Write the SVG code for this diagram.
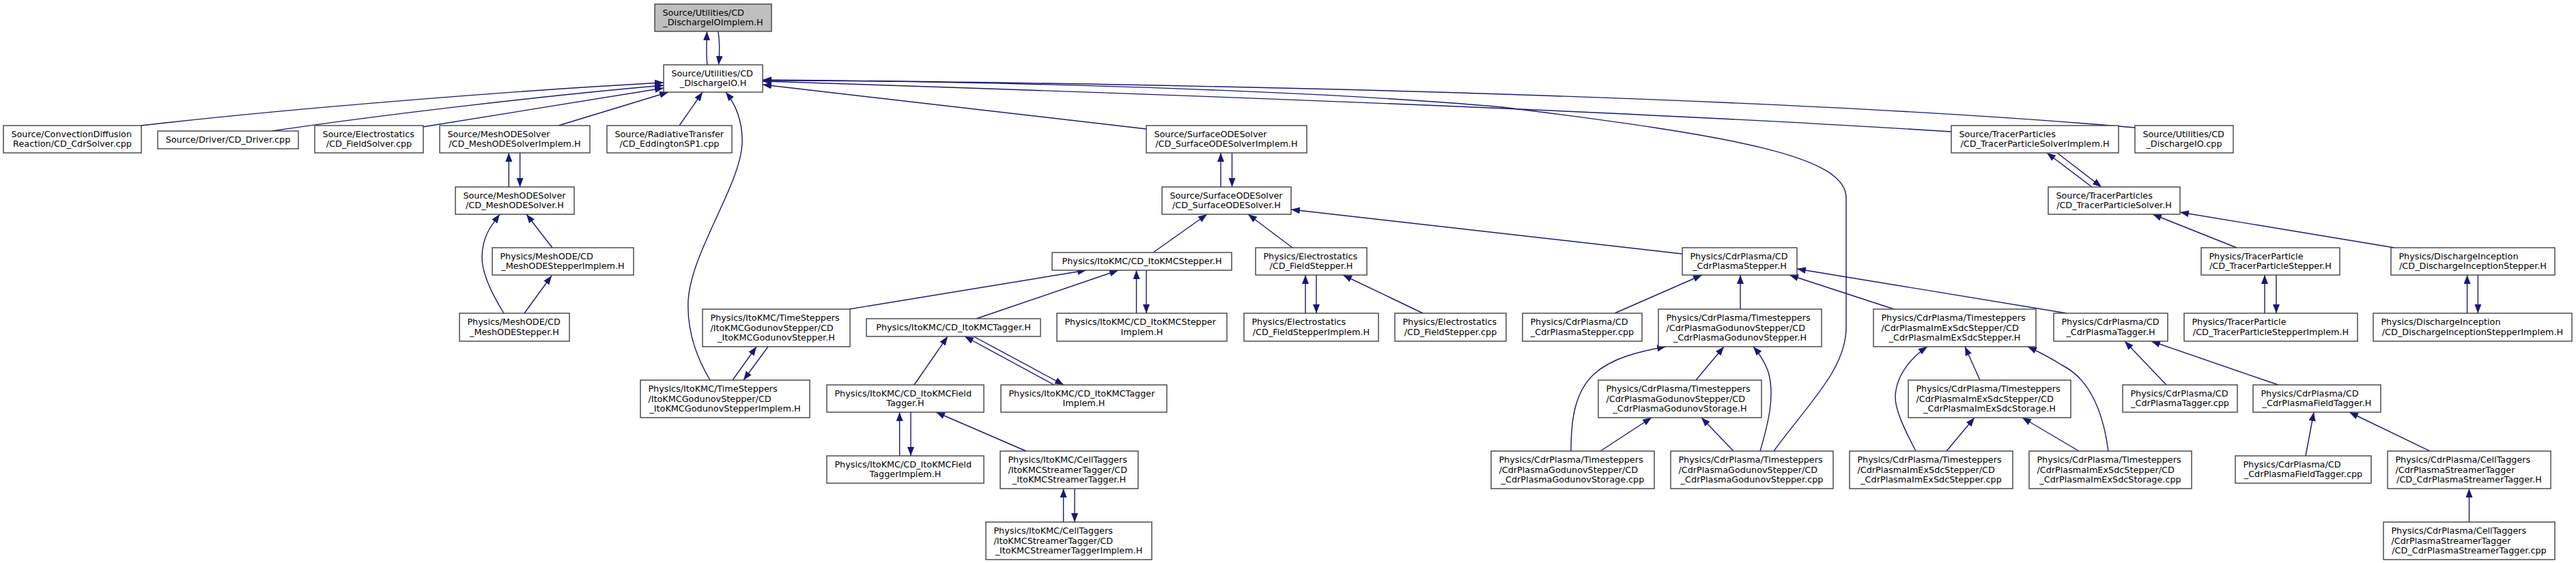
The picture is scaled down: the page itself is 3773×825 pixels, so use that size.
<svg xmlns="http://www.w3.org/2000/svg" width="3773" height="825" viewBox="0 0 3773 825">
<style>
.node rect{fill:#fff;stroke:#404040;stroke-width:1.4}
.node.root rect{fill:#bfbfbf}
text{font-family:"DejaVu Sans",sans-serif;font-size:12.8px;fill:#000}
.l{text-anchor:start}
.c{text-anchor:middle}
.edges path{fill:none;stroke:#191970;stroke-width:1.4;marker-end:url(#a)}
</style>
<defs>
<marker id="a" markerUnits="userSpaceOnUse" markerWidth="14" markerHeight="11" refX="13" refY="5" orient="auto"><path d="M0,0 L13,5 L0,10 z" fill="#191970"/></marker>
</defs>
<rect width="3773" height="825" fill="#fff"/>
<g class="edges">
<path d="M1036,95 C1034,80 1035,60 1035.5,46"/>
<path d="M1052,46 C1054,60 1054,80 1052.5,95"/>
<path d="M207,184 C450,156 800,130 972,121"/>
<path d="M398,192 C560,168 800,140 972,125"/>
<path d="M619,186 L972,129"/>
<path d="M818,184 L979,135"/>
<path d="M995,184 L1029,135"/>
<path d="M1040,557 C1018,520 1006,480 1008,440 C1012,370 1085,270 1087,210 C1088,175 1075,150 1063,135"/>
<path d="M1679,189 L1117,124"/>
<path d="M3127,187 C2700,150 2000,125 1117,117"/>
<path d="M2858,193 C2500,170 1900,144 1117,119"/>
<path d="M2598,661 C2650,590 2704,540 2704,480 L2704,290 C2704,230 2550,200 2200,157 C1900,130 1400,118 1117,118"/>
<path d="M1788,274 L1788,224"/>
<path d="M1804.5,224 L1804.5,274"/>
<path d="M1689,370 L1768,314"/>
<path d="M1893,363 L1828,314"/>
<path d="M2464,372 L1891,307"/>
<path d="M1244,453 L1591,396"/>
<path d="M1430,467 L1638,396"/>
<path d="M1664.5,459 L1664.5,396"/>
<path d="M1679,396 L1679,459"/>
<path d="M1073,557 L1108,508"/>
<path d="M1125,508 L1089,557"/>
<path d="M1339,564 L1388,493"/>
<path d="M1544,564 L1413,493"/>
<path d="M1426,493 L1558,564"/>
<path d="M1317.6,668 L1317.6,604"/>
<path d="M1334,604 L1334,668"/>
<path d="M1503,661 L1371,604"/>
<path d="M1557.6,765 L1557.6,716"/>
<path d="M1574,716 L1574,765"/>
<path d="M1912,459 L1912,403"/>
<path d="M1928,403 L1928,459"/>
<path d="M2084,459 L1967,403"/>
<path d="M2365,459 L2493,403"/>
<path d="M2549,453 L2549,403"/>
<path d="M2774,453 L2621,403"/>
<path d="M3027,459 L2632,394"/>
<path d="M2484,557 L2525,508"/>
<path d="M2578,661 C2590,620 2600,580 2590,545 C2584,528 2574,515 2568,508"/>
<path d="M2301,661 C2301,620 2305,575 2335,548 C2360,525 2400,515 2440,508"/>
<path d="M2344,661 L2419,612"/>
<path d="M2539,661 L2492,612"/>
<path d="M2900,557 L2878,508"/>
<path d="M2806,661 C2790,630 2775,600 2776,580 C2778,545 2805,520 2823,508"/>
<path d="M3088,661 C3080,600 3060,555 3020,535 C3000,522 2985,515 2970,508"/>
<path d="M2851,661 L2892,612"/>
<path d="M3045,661 L2962,612"/>
<path d="M3173,564 L3112,500"/>
<path d="M3337,564 L3151,500"/>
<path d="M3377,668 L3389,604"/>
<path d="M3559,661 L3441,604"/>
<path d="M3616.5,765 L3616.5,716"/>
<path d="M3064,274 L2998,224"/>
<path d="M3013,224 L3078,274"/>
<path d="M3276,363 L3153,314"/>
<path d="M3507,363 L3193,311"/>
<path d="M3317,459 L3317,403"/>
<path d="M3334,403 L3334,459"/>
<path d="M3613.6,459 L3613.6,403"/>
<path d="M3629.4,403 L3629.4,459"/>
<path d="M745.3,274 L745.3,224"/>
<path d="M761.6,224 L761.6,274"/>
<path d="M809,363 L771,314"/>
<path d="M738,459 C720,430 705,400 706,375 C707,345 720,330 732,314"/>
<path d="M768,459 L808,404"/>
</g>
<g id="implem" class="node root"><rect x="959" y="6" width="171" height="40"/><text class="l" x="970.4" y="22.8">Source/Utilities/CD</text><text class="c" x="1044.5" y="37.3">_DischargeIOImplem.H</text></g>
<g id="dio" class="node"><rect x="972" y="95" width="145" height="40"/><text class="l" x="983.4" y="111.8">Source/Utilities/CD</text><text class="c" x="1044.5" y="126.3">_DischargeIO.H</text></g>
<g id="cdrSolver" class="node"><rect x="5" y="184" width="202" height="40"/><text class="l" x="16.4" y="200.8">Source/ConvectionDiffusion</text><text class="c" x="106" y="215.3">Reaction/CD_CdrSolver.cpp</text></g>
<g id="driver" class="node"><rect x="231" y="192" width="206" height="26"/><text class="c" x="334" y="209.3">Source/Driver/CD_Driver.cpp</text></g>
<g id="fieldSolver" class="node"><rect x="461" y="184" width="159" height="40"/><text class="l" x="472.4" y="200.8">Source/Electrostatics</text><text class="c" x="540.5" y="215.3">/CD_FieldSolver.cpp</text></g>
<g id="meshImplem" class="node"><rect x="644" y="184" width="220" height="40"/><text class="l" x="655.4" y="200.8">Source/MeshODESolver</text><text class="c" x="754" y="215.3">/CD_MeshODESolverImplem.H</text></g>
<g id="radiative" class="node"><rect x="889" y="184" width="183" height="40"/><text class="l" x="900.4" y="200.8">Source/RadiativeTransfer</text><text class="c" x="980.5" y="215.3">/CD_EddingtonSP1.cpp</text></g>
<g id="surfImplem" class="node"><rect x="1679" y="184" width="235" height="40"/><text class="l" x="1690.4" y="200.8">Source/SurfaceODESolver</text><text class="c" x="1796.5" y="215.3">/CD_SurfaceODESolverImplem.H</text></g>
<g id="tracerImplem" class="node"><rect x="2858" y="184" width="245" height="40"/><text class="l" x="2869.4" y="200.8">Source/TracerParticles</text><text class="c" x="2980.5" y="215.3">/CD_TracerParticleSolverImplem.H</text></g>
<g id="dioCpp" class="node"><rect x="3127" y="184" width="144" height="40"/><text class="l" x="3138.4" y="200.8">Source/Utilities/CD</text><text class="c" x="3199" y="215.3">_DischargeIO.cpp</text></g>
<g id="meshSolver" class="node"><rect x="667" y="274" width="174" height="40"/><text class="l" x="678.4" y="290.8">Source/MeshODESolver</text><text class="c" x="754" y="305.3">/CD_MeshODESolver.H</text></g>
<g id="surfSolver" class="node"><rect x="1702" y="274" width="189" height="40"/><text class="l" x="1713.4" y="290.8">Source/SurfaceODESolver</text><text class="c" x="1796.5" y="305.3">/CD_SurfaceODESolver.H</text></g>
<g id="tracerSolver" class="node"><rect x="3000" y="274" width="193" height="40"/><text class="l" x="3011.4" y="290.8">Source/TracerParticles</text><text class="c" x="3096.5" y="305.3">/CD_TracerParticleSolver.H</text></g>
<g id="meshStepperImplem" class="node"><rect x="721" y="363" width="207" height="40"/><text class="l" x="732.4" y="379.8">Physics/MeshODE/CD</text><text class="c" x="824.5" y="394.3">_MeshODEStepperImplem.H</text></g>
<g id="itoStepper" class="node"><rect x="1541" y="370" width="263" height="26"/><text class="c" x="1672.5" y="387.3">Physics/ItoKMC/CD_ItoKMCStepper.H</text></g>
<g id="fieldStepper" class="node"><rect x="1839" y="363" width="163" height="40"/><text class="l" x="1850.4" y="379.8">Physics/Electrostatics</text><text class="c" x="1920.5" y="394.3">/CD_FieldStepper.H</text></g>
<g id="cdrPlasmaStepper" class="node"><rect x="2464" y="363" width="168" height="40"/><text class="l" x="2475.4" y="379.8">Physics/CdrPlasma/CD</text><text class="c" x="2548" y="394.3">_CdrPlasmaStepper.H</text></g>
<g id="tracerStepper" class="node"><rect x="3224" y="363" width="203" height="40"/><text class="l" x="3235.4" y="379.8">Physics/TracerParticle</text><text class="c" x="3325.5" y="394.3">/CD_TracerParticleStepper.H</text></g>
<g id="diStepper" class="node"><rect x="3502" y="363" width="240" height="40"/><text class="l" x="3513.4" y="379.8">Physics/DischargeInception</text><text class="c" x="3622" y="394.3">/CD_DischargeInceptionStepper.H</text></g>
<g id="meshStepper" class="node"><rect x="673" y="459" width="161" height="41"/><text class="l" x="684.4" y="476.3">Physics/MeshODE/CD</text><text class="c" x="753.5" y="490.8">_MeshODEStepper.H</text></g>
<g id="itoGodStepper" class="node"><rect x="1029" y="453" width="216" height="55"/><text class="l" x="1040.4" y="470">Physics/ItoKMC/TimeSteppers</text><text class="l" x="1040.4" y="484.5">/ItoKMCGodunovStepper/CD</text><text class="c" x="1137" y="499">_ItoKMCGodunovStepper.H</text></g>
<g id="itoTagger" class="node"><rect x="1269" y="467" width="255" height="26"/><text class="c" x="1396.5" y="484.3">Physics/ItoKMC/CD_ItoKMCTagger.H</text></g>
<g id="itoStepperImplem" class="node"><rect x="1548" y="459" width="249" height="41"/><text class="l" x="1559.4" y="476.3">Physics/ItoKMC/CD_ItoKMCStepper</text><text class="c" x="1672.5" y="490.8">Implem.H</text></g>
<g id="fieldStepperImplem" class="node"><rect x="1822" y="459" width="197" height="41"/><text class="l" x="1833.4" y="476.3">Physics/Electrostatics</text><text class="c" x="1920.5" y="490.8">/CD_FieldStepperImplem.H</text></g>
<g id="fieldStepperCpp" class="node"><rect x="2043" y="459" width="163" height="41"/><text class="l" x="2054.4" y="476.3">Physics/Electrostatics</text><text class="c" x="2124.5" y="490.8">/CD_FieldStepper.cpp</text></g>
<g id="cdrPlasmaStepperCpp" class="node"><rect x="2230" y="459" width="175" height="41"/><text class="l" x="2241.4" y="476.3">Physics/CdrPlasma/CD</text><text class="c" x="2317.5" y="490.8">_CdrPlasmaStepper.cpp</text></g>
<g id="godStepper" class="node"><rect x="2429" y="453" width="239" height="55"/><text class="l" x="2440.4" y="470">Physics/CdrPlasma/Timesteppers</text><text class="l" x="2440.4" y="484.5">/CdrPlasmaGodunovStepper/CD</text><text class="c" x="2548.5" y="499">_CdrPlasmaGodunovStepper.H</text></g>
<g id="imexStepper" class="node"><rect x="2744" y="453" width="238" height="55"/><text class="l" x="2755.4" y="470">Physics/CdrPlasma/Timesteppers</text><text class="l" x="2755.4" y="484.5">/CdrPlasmaImExSdcStepper/CD</text><text class="c" x="2863" y="499">_CdrPlasmaImExSdcStepper.H</text></g>
<g id="cdrPlasmaTagger" class="node"><rect x="3008" y="459" width="167" height="41"/><text class="l" x="3019.4" y="476.3">Physics/CdrPlasma/CD</text><text class="c" x="3091.5" y="490.8">_CdrPlasmaTagger.H</text></g>
<g id="tracerStepperImplem" class="node"><rect x="3199" y="459" width="254" height="41"/><text class="l" x="3210.4" y="476.3">Physics/TracerParticle</text><text class="c" x="3326" y="490.8">/CD_TracerParticleStepperImplem.H</text></g>
<g id="diStepperImplem" class="node"><rect x="3476" y="459" width="291" height="41"/><text class="l" x="3487.4" y="476.3">Physics/DischargeInception</text><text class="c" x="3621.5" y="490.8">/CD_DischargeInceptionStepperImplem.H</text></g>
<g id="itoGodImplem" class="node"><rect x="938" y="557" width="248" height="55"/><text class="l" x="949.4" y="574">Physics/ItoKMC/TimeSteppers</text><text class="l" x="949.4" y="588.5">/ItoKMCGodunovStepper/CD</text><text class="c" x="1062" y="603">_ItoKMCGodunovStepperImplem.H</text></g>
<g id="itoFieldTagger" class="node"><rect x="1211" y="564" width="230" height="40"/><text class="l" x="1222.4" y="580.8">Physics/ItoKMC/CD_ItoKMCField</text><text class="c" x="1326" y="595.3">Tagger.H</text></g>
<g id="itoTaggerImplem" class="node"><rect x="1466" y="564" width="243" height="40"/><text class="l" x="1477.4" y="580.8">Physics/ItoKMC/CD_ItoKMCTagger</text><text class="c" x="1587.5" y="595.3">Implem.H</text></g>
<g id="godStorageH" class="node"><rect x="2341" y="557" width="239" height="55"/><text class="l" x="2352.4" y="574">Physics/CdrPlasma/Timesteppers</text><text class="l" x="2352.4" y="588.5">/CdrPlasmaGodunovStepper/CD</text><text class="c" x="2460.5" y="603">_CdrPlasmaGodunovStorage.H</text></g>
<g id="imexStorageH" class="node"><rect x="2795" y="557" width="238" height="55"/><text class="l" x="2806.4" y="574">Physics/CdrPlasma/Timesteppers</text><text class="l" x="2806.4" y="588.5">/CdrPlasmaImExSdcStepper/CD</text><text class="c" x="2914" y="603">_CdrPlasmaImExSdcStorage.H</text></g>
<g id="cdrPlasmaTaggerCpp" class="node"><rect x="3109" y="564" width="168" height="40"/><text class="l" x="3120.4" y="580.8">Physics/CdrPlasma/CD</text><text class="c" x="3193" y="595.3">_CdrPlasmaTagger.cpp</text></g>
<g id="fieldTaggerH" class="node"><rect x="3300" y="564" width="187" height="40"/><text class="l" x="3311.4" y="580.8">Physics/CdrPlasma/CD</text><text class="c" x="3393.5" y="595.3">_CdrPlasmaFieldTagger.H</text></g>
<g id="itoFieldTaggerImplem" class="node"><rect x="1211" y="668" width="230" height="40"/><text class="l" x="1222.4" y="684.8">Physics/ItoKMC/CD_ItoKMCField</text><text class="c" x="1326" y="699.3">TaggerImplem.H</text></g>
<g id="itoStreamer" class="node"><rect x="1465" y="661" width="202" height="55"/><text class="l" x="1476.4" y="678">Physics/ItoKMC/CellTaggers</text><text class="l" x="1476.4" y="692.5">/ItoKMCStreamerTagger/CD</text><text class="c" x="1566" y="707">_ItoKMCStreamerTagger.H</text></g>
<g id="godStorageCpp" class="node"><rect x="2184" y="661" width="239" height="55"/><text class="l" x="2195.4" y="678">Physics/CdrPlasma/Timesteppers</text><text class="l" x="2195.4" y="692.5">/CdrPlasmaGodunovStepper/CD</text><text class="c" x="2303.5" y="707">_CdrPlasmaGodunovStorage.cpp</text></g>
<g id="godStepperCpp" class="node"><rect x="2447" y="661" width="238" height="55"/><text class="l" x="2458.4" y="678">Physics/CdrPlasma/Timesteppers</text><text class="l" x="2458.4" y="692.5">/CdrPlasmaGodunovStepper/CD</text><text class="c" x="2566" y="707">_CdrPlasmaGodunovStepper.cpp</text></g>
<g id="imexStepperCpp" class="node"><rect x="2709" y="661" width="239" height="55"/><text class="l" x="2720.4" y="678">Physics/CdrPlasma/Timesteppers</text><text class="l" x="2720.4" y="692.5">/CdrPlasmaImExSdcStepper/CD</text><text class="c" x="2828.5" y="707">_CdrPlasmaImExSdcStepper.cpp</text></g>
<g id="imexStorageCpp" class="node"><rect x="2972" y="661" width="238" height="55"/><text class="l" x="2983.4" y="678">Physics/CdrPlasma/Timesteppers</text><text class="l" x="2983.4" y="692.5">/CdrPlasmaImExSdcStepper/CD</text><text class="c" x="3091" y="707">_CdrPlasmaImExSdcStorage.cpp</text></g>
<g id="fieldTaggerCpp" class="node"><rect x="3274" y="668" width="199" height="40"/><text class="l" x="3285.4" y="684.8">Physics/CdrPlasma/CD</text><text class="c" x="3373.5" y="699.3">_CdrPlasmaFieldTagger.cpp</text></g>
<g id="streamerH" class="node"><rect x="3497" y="661" width="239" height="55"/><text class="l" x="3508.4" y="678">Physics/CdrPlasma/CellTaggers</text><text class="l" x="3508.4" y="692.5">/CdrPlasmaStreamerTagger</text><text class="c" x="3616.5" y="707">/CD_CdrPlasmaStreamerTagger.H</text></g>
<g id="itoStreamerImplem" class="node"><rect x="1444" y="765" width="243" height="55"/><text class="l" x="1455.4" y="782">Physics/ItoKMC/CellTaggers</text><text class="l" x="1455.4" y="796.5">/ItoKMCStreamerTagger/CD</text><text class="c" x="1565.5" y="811">_ItoKMCStreamerTaggerImplem.H</text></g>
<g id="streamerCpp" class="node"><rect x="3491" y="765" width="251" height="55"/><text class="l" x="3502.4" y="782">Physics/CdrPlasma/CellTaggers</text><text class="l" x="3502.4" y="796.5">/CdrPlasmaStreamerTagger</text><text class="c" x="3616.5" y="811">/CD_CdrPlasmaStreamerTagger.cpp</text></g>
</svg>
